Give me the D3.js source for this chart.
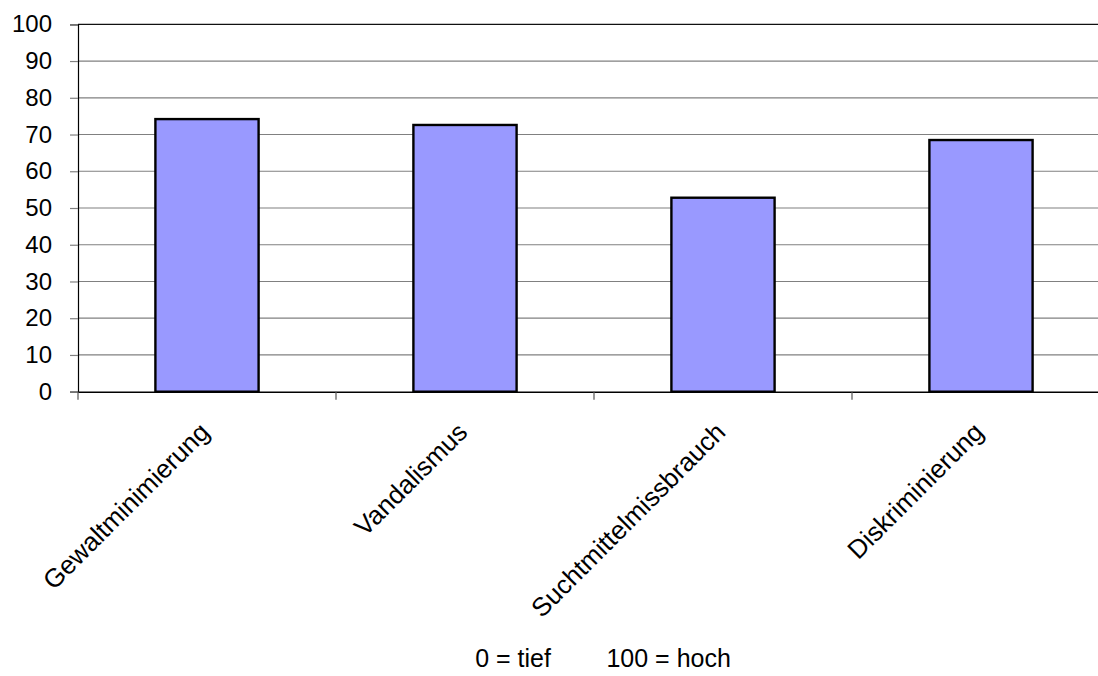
<!DOCTYPE html>
<html>
<head>
<meta charset="utf-8">
<script src="https://cdn.jsdelivr.net/npm/d3@7"></script>
<style>
  body { margin: 0; background: #fff; overflow: hidden; }
  text { font-family: "Liberation Sans", Arial, sans-serif; fill: #000; }
</style>
</head>
<body>
<svg id="viz" width="1098" height="676"></svg>
<script>
var categories = ['Gewaltminimierung', 'Vandalismus', 'Suchtmittelmissbrauch', 'Diskriminierung'];
var values = [74.2, 72.6, 52.8, 68.5];
var yTicks = [0, 10, 20, 30, 40, 50, 60, 70, 80, 90, 100];
var note = '0 = tief        100 = hoch';

var svg = d3.select('#viz');
var pLeft = 78, pRight = 1110, pTop = 24.3, pBottom = 391.7;

var x = d3.scaleBand().domain(categories).range([pLeft, pRight]).paddingInner(0).paddingOuter(0);
var y = d3.scaleLinear().domain([0, 100]).range([pBottom, pTop]);
var barW = x.bandwidth() * 0.4;

// gridlines
svg.append('g').selectAll('line')
	.data(yTicks.filter(function(d) { return d > 0; }))
	.enter().append('line')
		.attr('x1', pLeft).attr('x2', pRight)
		.attr('y1', function(d) { return y(d); })
		.attr('y2', function(d) { return y(d); })
		.attr('stroke', function(d) { return d == 100 ? '#111' : '#808080'; })
		.attr('stroke-width', 1.2);

// bars
svg.append('g').selectAll('rect')
	.data(values)
	.enter().append('rect')
		.attr('x', function(d, i) { return x(categories[i]) + (x.bandwidth() - barW) / 2; })
		.attr('y', function(d) { return y(d); })
		.attr('width', barW)
		.attr('height', function(d) { return pBottom - y(d); })
		.attr('fill', '#9999ff')
		.attr('stroke', '#000')
		.attr('stroke-width', 2.4);

// y axis
var yAxis = svg.append('g')
	.attr('transform', 'translate(' + pLeft + ',0)')
	.call(d3.axisLeft(y).tickValues(yTicks).tickSize(8).tickPadding(18));
yAxis.select('.domain').attr('stroke', '#000').attr('stroke-width', 1.2);
yAxis.selectAll('.tick line').attr('stroke', '#808080').attr('stroke-width', 1.2);
yAxis.selectAll('text').style('font-size', '24px').style('font-family', '"Liberation Sans", Arial, sans-serif');

// x axis
var xAxis = svg.append('g')
	.attr('transform', 'translate(0,' + pBottom + ')')
	.call(d3.axisBottom(x).tickSize(0).tickFormat(''));
xAxis.select('.domain').attr('stroke', '#000').attr('stroke-width', 1.5);
svg.append('g').selectAll('line')
	.data(d3.range(categories.length + 1))
	.enter().append('line')
		.attr('x1', function(i) { return pLeft + i * x.step(); })
		.attr('x2', function(i) { return pLeft + i * x.step(); })
		.attr('y1', pBottom).attr('y2', pBottom + 8)
		.attr('stroke', '#555').attr('stroke-width', 1.2);

svg.append('g').selectAll('text')
	.data(categories)
	.enter().append('text')
		.attr('transform', function(d) { return 'translate(' + (x(d) + x.bandwidth() / 2 + 4) + ',' + (pBottom + 42) + ') rotate(-45)'; })
		.attr('text-anchor', 'end')
		.style('font-size', '26px')
		.text(function(d) { return d; });

svg.append('text')
	.attr('x', 603).attr('y', 667)
	.attr('text-anchor', 'middle')
	.style('font-size', '25px')
	.attr('xml:space', 'preserve')
	.text(note);
</script>
</body>
</html>
